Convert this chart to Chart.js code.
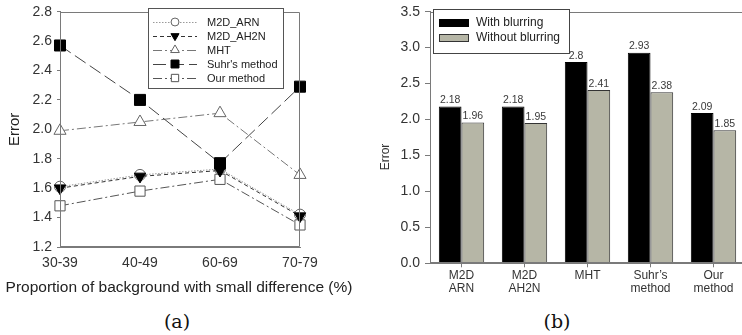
<!DOCTYPE html>
<html><head><meta charset="utf-8">
<script src="https://cdn.jsdelivr.net/npm/chart.js@4.4.0/dist/chart.umd.min.js"></script>
<style>
html,body{margin:0;padding:0;background:#fff;overflow:hidden;width:742px;height:335px;position:relative;}
#ca{position:absolute;left:0;top:0;}
#cb{position:absolute;left:370px;top:0;}
.cap{position:absolute;font-family:"DejaVu Serif","Liberation Serif",serif;font-size:19px;color:#111;top:310px;transform:translateX(-50%);line-height:22px;}
</style></head><body>
<canvas id="ca" width="370" height="305"></canvas>
<canvas id="cb" width="380" height="305"></canvas>
<div class="cap" style="left:177px">(a)</div>
<div class="cap" style="left:557px">(b)</div>
<script>
// ---------- data: panel (a) ----------
const categoriesA = ['30-39', '40-49', '60-69', '70-79'];
const m2dArn  = [1.61, 1.69, 1.73, 1.42];
const m2dAh2n = [1.60, 1.68, 1.72, 1.41];
const mht     = [1.99, 2.05, 2.11, 1.69];
const suhr    = [2.57, 2.20, 1.77, 2.29];
const ours    = [1.48, 1.58, 1.66, 1.35];
const namesA  = ['M2D_ARN', 'M2D_AH2N', 'MHT', "Suhr's method", 'Our method'];
const yTicksA = [1.2, 1.4, 1.6, 1.8, 2.0, 2.2, 2.4, 2.6, 2.8];
const xTitleA = 'Proportion of background with small difference (%)';
const yTitle  = 'Error';

// ---------- data: panel (b) ----------
const categoriesB = [['M2D', 'ARN'], ['M2D', 'AH2N'], ['MHT'], ['Suhr\u2019s', 'method'], ['Our', 'method']];
const withBlur    = [2.18, 2.18, 2.8, 2.93, 2.09];
const withoutBlur = [1.96, 1.95, 2.41, 2.38, 1.85];
const namesB      = ['With blurring', 'Without blurring'];
const yTicksB     = [0.0, 0.5, 1.0, 1.5, 2.0, 2.5, 3.0, 3.5];

Chart.defaults.font.family = '"Liberation Sans", Arial, sans-serif';
Chart.defaults.color = '#2a2a2a';
Chart.defaults.animation = false;

const AXIS = '#7a7a7a';

const framePlugin = {
  id: 'frame',
  afterDatasetsDraw(chart) {
    const {ctx, chartArea: a} = chart;
    ctx.save();
    ctx.strokeStyle = AXIS; ctx.lineWidth = 1;
    const l = Math.round(a.left) + 0.5, t = Math.round(a.top) + 0.5;
    const r = Math.round(a.right) - 0.5, b = Math.round(a.bottom) - 0.5;
    ctx.beginPath();
    ctx.moveTo(l, b); ctx.lineTo(l, t); ctx.lineTo(r, t); ctx.lineTo(r, b); ctx.lineTo(l, b);
    ctx.stroke();
    ctx.restore();
  }
};

const legendA = {
  id: 'legendA',
  afterDraw(chart) {
    const ctx = chart.ctx;
    ctx.save();
    ctx.fillStyle = '#fff';
    ctx.fillRect(148, 8, 135, 80);
    ctx.strokeStyle = '#555'; ctx.lineWidth = 1;
    ctx.strokeRect(148.5, 8.5, 135, 80);
    chart.data.datasets.forEach((ds, i) => {
      const y = 22 + i * 14;
      ctx.save();
      ctx.strokeStyle = ds.borderColor; ctx.lineWidth = ds.borderWidth;
      ctx.setLineDash(ds.borderDash || []);
      ctx.beginPath(); ctx.moveTo(153, y + 0.5); ctx.lineTo(197, y + 0.5); ctx.stroke();
      ctx.setLineDash([]);
      ctx.fillStyle = ds.pointBackgroundColor; ctx.strokeStyle = ds.pointBorderColor;
      ctx.lineWidth = 1;
      Chart.helpers.drawPoint(ctx, {pointStyle: ds.pointStyle, rotation: ds.pointRotation || 0, radius: ds.pointRadius * 0.72, borderWidth: 1}, 175, y);
      ctx.restore();
      ctx.fillStyle = '#222';
      ctx.font = '11px "Liberation Sans", Arial, sans-serif';
      ctx.textBaseline = 'middle'; ctx.textAlign = 'left';
      ctx.fillText(ds.label, 207, y + 0.5);
    });
    // x-axis title (drawn here so it may extend past the plot width, as in the original)
    ctx.fillStyle = '#222';
    ctx.font = '15.5px "Liberation Sans", Arial, sans-serif';
    ctx.textAlign = 'center'; ctx.textBaseline = 'middle';
    ctx.fillText(xTitleA, 179, 288);
    ctx.restore();
  }
};

new Chart(document.getElementById('ca'), {
  type: 'line',
  data: {
    labels: categoriesA,
    datasets: [
      {label: namesA[0], data: m2dArn, order: 2, borderColor: '#9a9a9a', borderWidth: 1, borderDash: [1.5, 1.5],
       pointStyle: 'circle', pointRadius: 5.5, pointBackgroundColor: '#fff', pointBorderColor: '#666', pointBorderWidth: 1},
      {label: namesA[1], data: m2dAh2n, order: 1, borderColor: '#333', borderWidth: 1, borderDash: [4, 3],
       pointStyle: 'triangle', pointRotation: 180, pointRadius: 6.5, pointBackgroundColor: '#000', pointBorderColor: '#000', pointBorderWidth: 1},
      {label: namesA[2], data: mht, order: 3, borderColor: '#777', borderWidth: 1, borderDash: [9, 3, 2, 3],
       pointStyle: 'triangle', pointRotation: 0, pointRadius: 7, pointBackgroundColor: '#fff', pointBorderColor: '#666', pointBorderWidth: 1},
      {label: namesA[3], data: suhr, order: 0, borderColor: '#444', borderWidth: 1, borderDash: [13, 5],
       pointStyle: 'rect', pointRadius: 7.8, pointBackgroundColor: '#000', pointBorderColor: '#000', pointBorderWidth: 1},
      {label: namesA[4], data: ours, order: 4, borderColor: '#555', borderWidth: 1, borderDash: [9, 3, 2, 3],
       pointStyle: 'rect', pointRadius: 7.2, pointBackgroundColor: '#fff', pointBorderColor: '#555', pointBorderWidth: 1}
    ]
  },
  options: {
    responsive: false,
    layout: {padding: {left: 0, right: 70, top: 0, bottom: 0}},
    plugins: {legend: {display: false}, tooltip: {enabled: false}},
    scales: {
      x: {
        type: 'category', offset: false,
        grid: {display: false, drawTicks: true, tickLength: 8},
        border: {display: true, color: AXIS},
        ticks: {font: {size: 14}, padding: 0, color: '#333'},
        afterFit(s) { s.height = 58; }
      },
      y: {
        min: yTicksA[0], max: yTicksA[yTicksA.length - 1],
        afterBuildTicks(s) { s.ticks = yTicksA.map(v => ({value: v})); },
        grid: {display: true, drawOnChartArea: false, drawTicks: true, tickLength: 3, color: AXIS},
        border: {display: true, color: AXIS},
        ticks: {font: {size: 14, lineHeight: 0.95}, padding: 5, color: '#333', callback: v => Number(v).toFixed(1)},
        title: {display: true, text: yTitle, font: {size: 15}, color: '#222', padding: {top: 6, bottom: 0}},
        afterFit(s) { s.width = 60; }
      }
    }
  },
  plugins: [framePlugin, legendA]
});

const legendB = {
  id: 'legendB',
  afterDraw(chart) {
    const ctx = chart.ctx;
    ctx.save();
    ctx.fillStyle = '#fff';
    ctx.fillRect(63, 9, 136, 44);
    ctx.strokeStyle = '#444'; ctx.lineWidth = 1;
    ctx.strokeRect(63.5, 9.5, 136, 44);
    chart.data.datasets.forEach((ds, i) => {
      const y = 23 + i * 15;
      ctx.fillStyle = ds.backgroundColor;
      ctx.fillRect(69, y - 4, 30, 8);
      ctx.strokeStyle = ds.borderColor; ctx.lineWidth = 1;
      ctx.strokeRect(69.5, y - 3.5, 29, 7);
      ctx.fillStyle = '#222';
      ctx.font = '12px "Liberation Sans", Arial, sans-serif';
      ctx.textBaseline = 'middle'; ctx.textAlign = 'left';
      ctx.fillText(ds.label, 106, y);
    });
    ctx.translate(16, 157);
    ctx.rotate(-Math.PI / 2);
    ctx.textAlign = 'center'; ctx.textBaseline = 'middle';
    ctx.font = '12px "Liberation Sans", Arial, sans-serif';
    ctx.fillStyle = '#333';
    ctx.fillText(yTitle, 0, 0);
    ctx.restore();
  }
};

const barLabels = {
  id: 'barLabels',
  afterDatasetsDraw(chart) {
    const ctx = chart.ctx;
    ctx.save();
    ctx.font = '10.5px "Liberation Sans", Arial, sans-serif';
    ctx.fillStyle = '#3a3a3a';
    ctx.textAlign = 'center'; ctx.textBaseline = 'bottom';
    chart.data.datasets.forEach((ds, di) => {
      chart.getDatasetMeta(di).data.forEach((el, i) => {
        ctx.fillText(String(ds.data[i]), el.x, el.y - 1);
      });
    });
    ctx.restore();
  }
};

new Chart(document.getElementById('cb'), {
  type: 'bar',
  data: {
    labels: categoriesB,
    datasets: [
      {label: namesB[0], data: withBlur, backgroundColor: '#000', borderColor: '#000', borderWidth: 1,
       categoryPercentage: 0.72, barPercentage: 1.0},
      {label: namesB[1], data: withoutBlur, backgroundColor: '#b6b6a6', borderColor: '#333', borderWidth: 1,
       categoryPercentage: 0.72, barPercentage: 1.0}
    ]
  },
  options: {
    responsive: false,
    layout: {padding: {left: 0, right: 5, top: 0, bottom: 0}},
    plugins: {legend: {display: false}, tooltip: {enabled: false}},
    scales: {
      x: {
        offset: true,
        grid: {display: true, offset: false, drawOnChartArea: false, drawTicks: true, tickLength: 4, color: AXIS},
        border: {display: true, color: AXIS},
        ticks: {font: {size: 12, lineHeight: 1.1}, padding: 2, color: '#333'},
        afterFit(s) { s.height = 41.7; }
      },
      y: {
        min: yTicksB[0], max: yTicksB[yTicksB.length - 1],
        afterBuildTicks(s) { s.ticks = yTicksB.map(v => ({value: v})); },
        grid: {display: true, drawOnChartArea: false, drawTicks: true, tickLength: 5, color: AXIS},
        border: {display: true, color: AXIS},
        ticks: {font: {size: 14, lineHeight: 0.95}, padding: 5, color: '#333', callback: v => Number(v).toFixed(1)},
        afterFit(s) { s.width = 60; }
      }
    }
  },
  plugins: [framePlugin, legendB, barLabels]
});
</script>
</body></html>
